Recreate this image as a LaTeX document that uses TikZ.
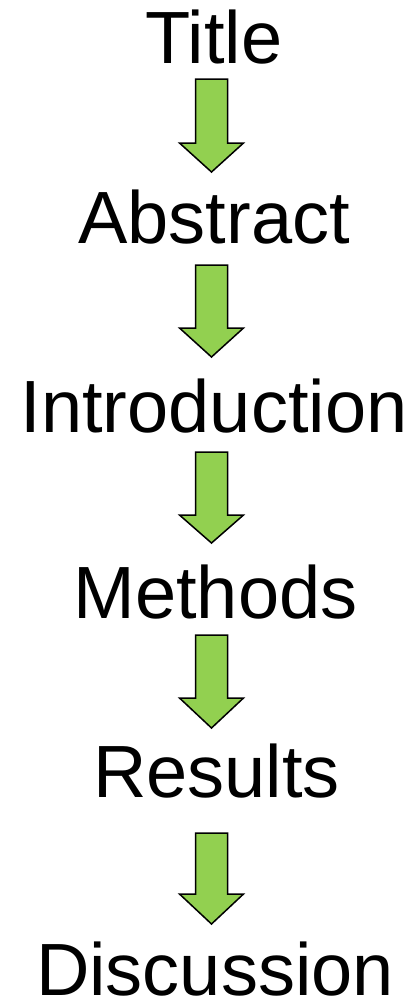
\documentclass[tikz,border=0pt]{standalone}
\usepackage{fontspec}
\setmainfont{Liberation Sans}
\definecolor{arrowgreen}{HTML}{92D050}
\newcommand\blockarr[3]{%
  \draw[blockarrow] (195.5,#1) -- (227.5,#1) -- (227.5,#2) -- (243.5,#2) -- (211.5,#3) -- (179.5,#2) -- (195.5,#2) -- cycle;}
\begin{document}
\begin{tikzpicture}[x=1pt,y=-1pt,
  sectlabel/.style={anchor=base, inner sep=0pt, text depth=0pt, font=\fontsize{74}{80}\selectfont},
  blockarrow/.style={fill=arrowgreen, draw=black, line width=1.5pt, line join=miter}]
\useasboundingbox (0,0) rectangle (415,999);
\node[sectlabel] (title) at (214,63) {Title};
\node[sectlabel] (abstract) at (214,243) {Abstract};
\node[sectlabel] (intro) at (214,432) {Introduction};
\node[sectlabel] (methods) at (215.5,618) {Methods};
\node[sectlabel] (results) at (216.5,797) {Results};
\node[sectlabel] (discussion) at (215,995) {Discussion};
\blockarr{79}{143}{172}
\blockarr{265}{328}{357}
\blockarr{452}{515}{543}
\blockarr{635}{698}{728}
\blockarr{833}{894}{924}
\end{tikzpicture}
\end{document}
